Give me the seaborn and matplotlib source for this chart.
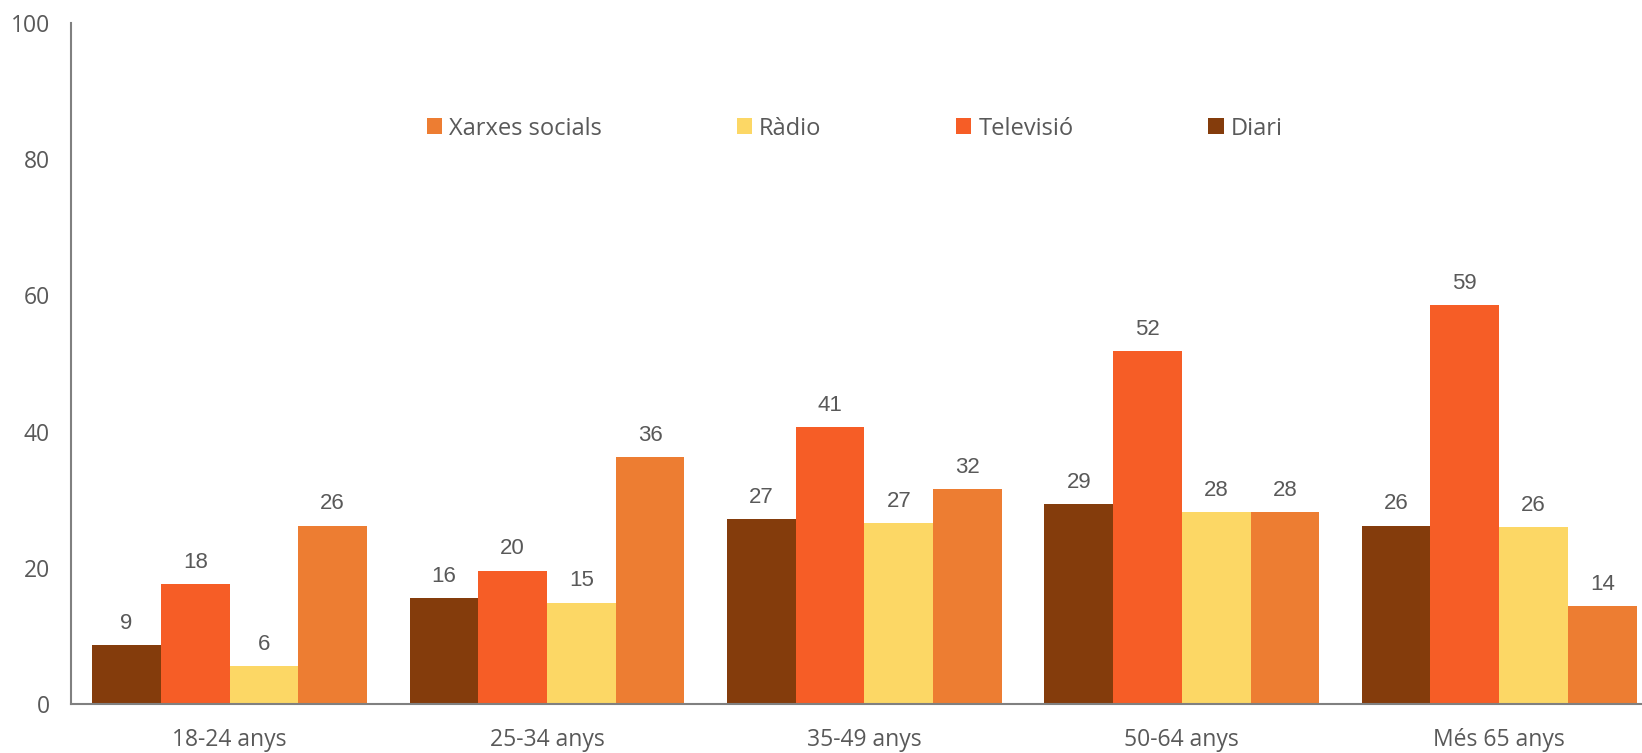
import matplotlib
matplotlib.use("Agg")
import matplotlib.pyplot as plt
import pandas as pd
import seaborn as sns

groups = ["18-24 anys", "25-34 anys", "35-49 anys", "50-64 anys", "Més 65 anys"]
diari = [8.6, 15.6, 27.1, 29.3, 26.2]
televisio = [17.6, 19.6, 40.6, 51.8, 58.6]
radio = [5.6, 14.9, 26.6, 28.2, 26.0]
xarxes = [26.2, 36.2, 31.6, 28.2, 14.4]

series = ["Diari", "Televisió", "Ràdio", "Xarxes socials"]
colors = ["#843C0C", "#F65D26", "#FCD765", "#ED7D32"]

df = pd.DataFrame({
    "grup": groups * 4,
    "mitja": [s for s in series for _ in groups],
    "valor": diari + televisio + radio + xarxes,
})

sns.set_theme(style="white")
plt.rcParams["font.family"] = ["Open Sans", "DejaVu Sans"]
grey = "#595959"

fig = plt.figure(figsize=(16.42, 7.53), dpi=100)
ax = fig.add_axes([0.0432, 0.0651, 0.9568, 0.9044])

sns.barplot(data=df, x="grup", y="valor", hue="mitja", hue_order=series,
            palette=colors, width=0.866, gap=0, saturation=1,
            edgecolor="none", linewidth=0, ax=ax)

for cont in ax.containers:
    ax.bar_label(cont, fmt="%.0f", padding=8, color=grey, fontsize=16,
                 family=["Liberation Sans", "DejaVu Sans"])

ax.set_xlim(-0.5, 4.45)
ax.set_ylim(0, 100)
ax.set_yticks(range(0, 101, 20))
ax.set_xlabel("")
ax.set_ylabel("")
ax.tick_params(axis="both", length=0, colors=grey, labelsize=16.5)
ax.tick_params(axis="x", pad=17)
ax.tick_params(axis="y", pad=15)
for s in ["top", "right"]:
    ax.spines[s].set_visible(False)
for s in ["left", "bottom"]:
    ax.spines[s].set_color("#808080")
    ax.spines[s].set_linewidth(1.5)

handles, labels = ax.get_legend_handles_labels()
ax.legend(handles[::-1], labels[::-1], ncol=4, frameon=False,
          loc="center left", bbox_to_anchor=(0.213, 0.845),
          handlelength=0.65, handleheight=0.65, handletextpad=0.3,
          columnspacing=5.7, fontsize=17, labelcolor=grey)

fig.savefig("out.png", dpi=100)
